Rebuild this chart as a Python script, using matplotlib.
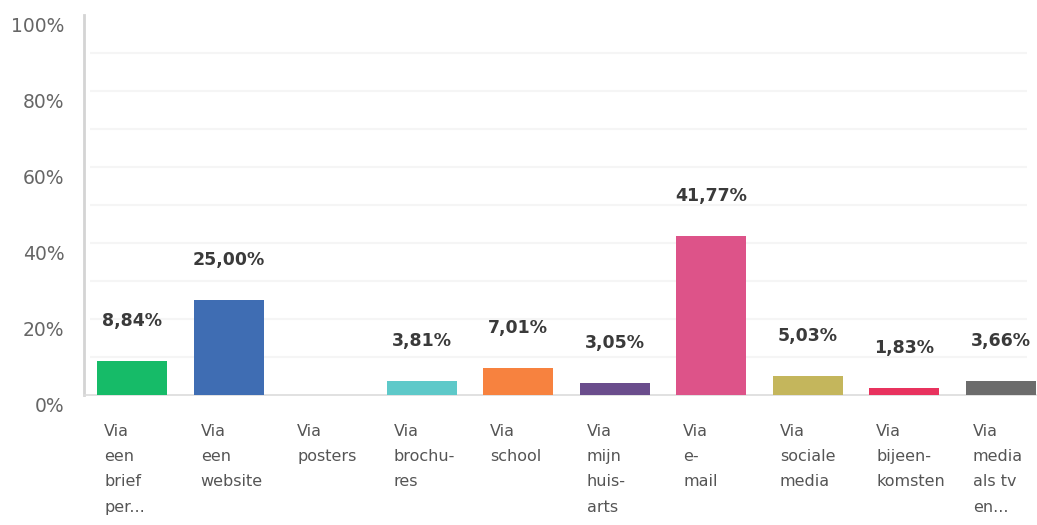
import matplotlib.pyplot as plt
from matplotlib.transforms import ScaledTranslation

# Data
categories = ["Via\neen\nbrief\nper...", "Via\neen\nwebsite", "Via\nposters",
              "Via\nbrochu-\nres", "Via\nschool", "Via\nmijn\nhuis-\narts",
              "Via\ne-\nmail", "Via\nsociale\nmedia", "Via\nbijeen-\nkomsten",
              "Via\nmedia\nals tv\nen..."]
values = [8.84, 25.00, 0.0, 3.81, 7.01, 3.05, 41.77, 5.03, 1.83, 3.66]
value_labels = ["8,84%", "25,00%", "", "3,81%", "7,01%", "3,05%",
                "41,77%", "5,03%", "1,83%", "3,66%"]
colors = ["#16bb68", "#3f6db3", "#e8a33d", "#5ec9c9", "#f7823f",
          "#6a4d8c", "#dd5389", "#c4b65c", "#e8325e", "#6c6c6c"]
yticks = [0, 20, 40, 60, 80, 100]
ytick_labels = ["0%", "20%", "40%", "60%", "80%", "100%"]

W, H, DPI = 1037, 525, 100
fig = plt.figure(figsize=(W / DPI, H / DPI), dpi=DPI)
# axes: left 84px, bottom at y=395px, top at y=15px
ax = fig.add_axes([84 / W, (H - 395) / H, (1036 - 84) / W, 380 / H])

x = list(range(len(values)))
bw = 0.725
ax.bar(x, values, width=bw, color=colors, clip_on=False, zorder=3)

ax.set_ylim(0, 100)
ax.set_xlim(-0.5, 9.365)

# very faint gridlines every 10%
for g in range(10, 100, 10):
    ax.hlines(g, -0.435, 9.27, color="#f5f5f5", lw=1.5, zorder=1)

for s in ["top", "right"]:
    ax.spines[s].set_visible(False)
ax.spines["left"].set_color("#d4d4d4")
ax.spines["left"].set_linewidth(2)
ax.spines["bottom"].set_color("#dcdcdc")
ax.spines["bottom"].set_linewidth(1.2)

ax.set_xticks([])
ax.set_yticks(yticks)
ax.set_yticklabels(ytick_labels, fontsize=13.5, color="#666666")
ax.tick_params(axis="y", length=0, pad=14)
shift = ScaledTranslation(0, -10 / DPI, fig.dpi_scale_trans)
for lab in ax.get_yticklabels():
    lab.set_transform(lab.get_transform() + shift)

# value labels above bars
for i, (v, t) in enumerate(zip(values, value_labels)):
    if t:
        ax.annotate(t, xy=(i, v), xytext=(0, 40), textcoords="offset pixels",
                    ha="center", va="center", fontsize=12.5,
                    fontweight="bold", color="#3a3a3a")

# category labels under bars
for i, c in enumerate(categories):
    ax.annotate(c, xy=(i - bw / 2, 0), xycoords=("data", "axes fraction"),
                xytext=(7, -29), textcoords="offset pixels",
                ha="left", va="top", fontsize=11.5, color="#555555",
                linespacing=1.85, annotation_clip=False)

fig.savefig("out.png", dpi=DPI)
